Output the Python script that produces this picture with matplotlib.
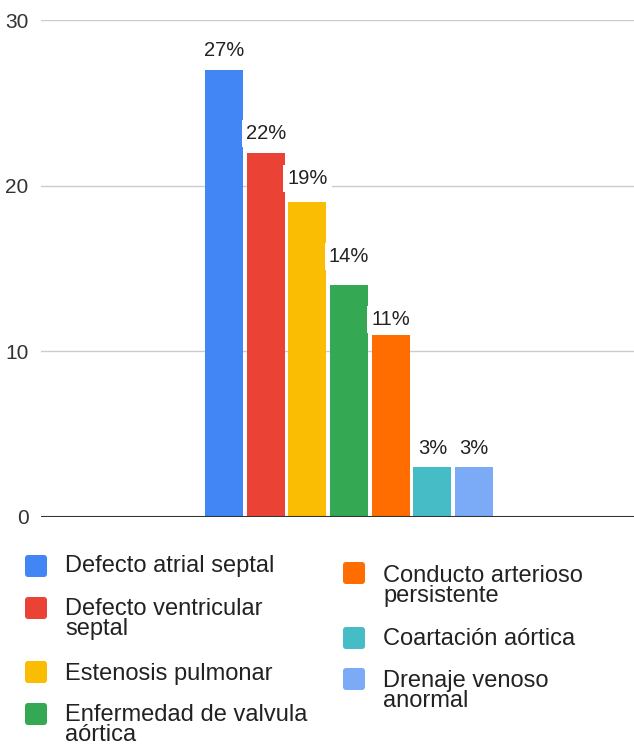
import matplotlib
matplotlib.use("Agg")
import matplotlib.pyplot as plt
from matplotlib.patches import FancyBboxPatch
from matplotlib.transforms import IdentityTransform

# Cardiopatías congénitas: porcentaje de casos por diagnóstico
DIAGNOSES = [
    "Defecto atrial septal",
    "Defecto ventricular\nseptal",
    "Estenosis pulmonar",
    "Enfermedad de valvula\naórtica",
    "Conducto arterioso\npersistente",
    "Coartación aórtica",
    "Drenaje venoso\nanormal",
]
PERCENTS = [27, 22, 19, 14, 11, 3, 3]
COLORS = ["#4285F4", "#EA4335", "#FBBC04", "#34A853", "#FF6D01", "#46BDC6", "#7BAAF7"]
Y_TICKS = [0, 10, 20, 30]

# gap (px) between bar top and label baseline
LABEL_LIFT = [14, 14, 18, 23, 10, 13, 13]

W, H = 634, 747
plt.rcParams['font.family'] = ['Liberation Sans', 'DejaVu Sans']

fig = plt.figure(figsize=(W / 100, H / 100), dpi=100)
# axes box in pixels: left 41, right 634, top 20, bottom 517
ax = fig.add_axes([41 / W, 1 - 517 / H, (634 - 41) / W, (517 - 20) / H])

step = 41.67
xs = list(range(len(PERCENTS)))
ax.bar(xs, PERCENTS, width=38 / step, color=COLORS, zorder=2)

for x, v, lift in zip(xs, PERCENTS, LABEL_LIFT):
    ax.annotate(f"{v}%", (x, v), xytext=(0, lift), textcoords='offset pixels',
                ha='center', va='baseline', fontsize=14.5, color='#222222',
                bbox=dict(boxstyle='square,pad=0.2', fc='white', ec='none'),
                zorder=4)

ax.set_xlim((41 - 224) / step, (634 - 224) / step)
ax.set_ylim(0, 30)
ax.set_yticks(Y_TICKS)
ax.tick_params(axis='y', length=0, pad=9, labelsize=15, labelcolor='#333333')
ax.tick_params(axis='x', bottom=False, labelbottom=False)
ax.grid(axis='y', color='#cccccc', linewidth=1, zorder=0)
ax.axhline(0, color='#333333', linewidth=1.5, zorder=3)
for s in ax.spines.values():
    s.set_visible(False)

# legend, two columns, marker aligned with the first line of each entry
col_x = [(25, 65), (343, 383)]
rows = [
    (0, 555, 572), (0, 597, 615), (0, 661, 680), (0, 703, 721),
    (1, 562, 582), (1, 627, 645), (1, 668, 687),
]
ident = IdentityTransform()
for (col, mtop, base), label, color in zip(rows, DIAGNOSES, COLORS):
    mx, tx = col_x[col]
    fig.add_artist(FancyBboxPatch((mx, H - mtop - 22), 22, 22,
                                  boxstyle='round,pad=0,rounding_size=3',
                                  fc=color, ec='none', transform=ident))
    for k, line in enumerate(label.split("\n")):
        fig.text(tx, H - (base + 20 * k), line, transform=ident,
                 fontsize=17, color='#222222', va='baseline', ha='left')

fig.savefig("out.png", dpi=100)
